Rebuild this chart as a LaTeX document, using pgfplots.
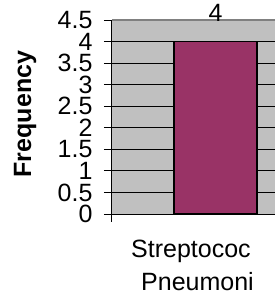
\documentclass[border=0pt]{standalone}
\usepackage{pgfplots}
\pgfplotsset{compat=1.18}
\usepackage{fontspec}
\setmainfont{Liberation Sans}
\definecolor{plotbg}{HTML}{C0C0C0}
\definecolor{barc}{HTML}{993366}
\definecolor{bordergrey}{HTML}{808080}
\begin{document}
\begin{tikzpicture}[x=1pt,y=1pt]
\useasboundingbox (0,0) rectangle (275,301);
\clip (0,0) rectangle (275,301);
\begin{axis}[
  at={(112pt,87pt)}, anchor=south west,
  scale only axis, width=207pt, height=194pt,
  xmin=-0.5, xmax=0.5, ymin=0, ymax=4.5,
  clip=false,
  /pgf/number format/assume math mode=true,
  axis background/.style={fill=plotbg},
  axis x line=bottom, axis y line=left,
  axis line style={-, black, line width=1pt},
  ybar, bar width=83pt,
  xtick={0}, xticklabels={{Streptococ\\\hspace*{10pt}Pneumoni}},
  xtick style={draw=none},
  xticklabel style={align=left, font=\fontsize{25}{33}\selectfont, xshift=-23pt, yshift=-15pt},
  ytick={0,0.5,1,1.5,2,2.5,3,3.5,4,4.5},
  yticklabels={0,0.5,1,1.5,2,2.5,3,3.5,4,4.5},
  yticklabel style={font=\fontsize{25}{25}\selectfont, xshift=-8pt},
  tick align=outside, major tick length=8pt,
  ytick style={black, line width=1pt},
  ymajorgrids, major grid style={black, line width=0.8pt},
  ylabel={\textbf{Frequency}},
  every axis y label/.style={at={(axis description cs:-0.420,0.515)}, rotate=90, anchor=center, font=\fontsize{25}{25}\selectfont},
  nodes near coords,
  nodes near coords style={font=\fontsize{25}{25}\selectfont, anchor=base, yshift=20pt, black},
]
\addplot[fill=barc, draw=black, line width=1.5pt] coordinates {(0,4)};
\draw[bordergrey, line width=1.5pt] (rel axis cs:0,1) -- (rel axis cs:1,1);
\draw[black, line width=1pt] (axis cs:-0.5,0) -- ++(0pt,-8pt);
\end{axis}
\end{tikzpicture}
\end{document}
